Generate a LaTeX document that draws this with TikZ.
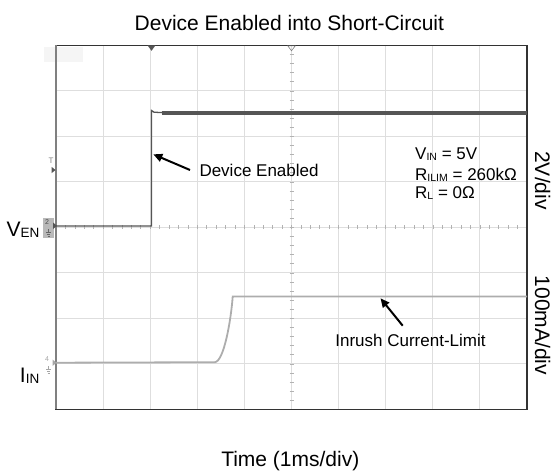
\documentclass[tikz,border=0pt]{standalone}
\usepackage{fontspec}
\setmainfont{Liberation Sans}
\usetikzlibrary{arrows.meta}
\definecolor{gridgray}{HTML}{DEDEDE}
\definecolor{entrace}{HTML}{555555}
\definecolor{intrace}{HTML}{ADADAD}
\newcommand{\lo}[2][10.5]{\raisebox{-1.2pt}{\fontsize{#1}{#1}\selectfont #2}}
\begin{document}
\begin{tikzpicture}[x=1pt,y=-1pt,
    gridline/.style={gridgray,line width=1pt},
    tickline/.style={gray!60,line width=0.6pt},
    callout/.style={line width=2pt,-{Triangle[length=9pt,width=8pt]}},
    lbl/.style={inner sep=0pt,font=\fontsize{17}{20}\selectfont},
    biglbl/.style={inner sep=0pt,font=\fontsize{21}{24}\selectfont}]
    \useasboundingbox (0,0) rectangle (556,472);
    % grid
    \fill[black!4] (44.3,46.7) rectangle (83.3,61.7);
    \foreach \i in {1,...,9}
        \draw[gridline] ({56+47.1*\i},45.3) -- ({56+47.1*\i},409.3);
    \foreach \j in {1,...,7}
        \draw[gridline] (56,{45.3+45.5*\j}) -- (527,{45.3+45.5*\j});
    \foreach \k in {1,...,39}
        \draw[tickline] (289.5,{45.3+9.1*\k}) -- (293.5,{45.3+9.1*\k});
    \foreach \k in {1,...,49}
        \draw[tickline] ({56+9.42*\k},225.3) -- ({56+9.42*\k},229.3);
    \draw[line width=1.2pt,black!80] (56,45.3) rectangle (527,409.3);
    \draw[line width=1.4pt,black!50] (56,45.3) -- (56,409.3);
    % markers
    \fill[entrace] (147.5,45.3) -- (155.5,45.3) -- (151.5,50.8) -- cycle;
    \draw[gray,line width=0.6pt] (287.8,45.9) -- (295.2,45.9) -- (291.5,50.8) -- cycle;
    \node[inner sep=0pt,text=gray,font=\fontsize{8}{8}\selectfont] (trig) at (51,161) {T};
    \fill[entrace] (51.5,166.8) -- (55.5,170) -- (51.5,173.2) -- cycle;
    \fill[gray!55] (43.3,217.7) rectangle (54,238.3);
    \node[inner sep=0pt,text=black!70,font=\fontsize{7}{7}\selectfont] (ch2) at (47,222) {2};
    \draw[black!60,line width=0.5pt] (48.6,229) -- (48.6,232) (46,232) -- (51.2,232) (46.8,234) -- (50.4,234) (47.6,236) -- (49.6,236);
    \fill[entrace] (53,222.5) -- (57,225.8) -- (53,229) -- cycle;
    \node[inner sep=0pt,text=gray!70,font=\fontsize{7}{7}\selectfont] (ch4) at (47,359.5) {4};
    \draw[gray!70,line width=0.5pt] (48.6,366) -- (48.6,369) (46,369) -- (51.2,369) (46.8,371) -- (50.4,371) (47.6,373) -- (49.6,373);
    \fill[gray!70] (52.5,359.5) -- (56.5,362.7) -- (52.5,365.9) -- cycle;
    % traces
    \draw[entrace,line width=1.3pt] (56,226) -- (151.5,226) -- (151.5,110.5) -- (154,112.2) -- (162,112.6);
    \draw[entrace,line width=3.5pt] (161.7,113) -- (527,113);
    \draw[intrace,line width=1.8pt] (56,362.7) -- (215,362.2)
        .. controls (224,361) and (231,320) .. (232.7,296.5) -- (527,296.5);
    % labels
    \node[biglbl,anchor=base] (title) at (289.4,30.7) {Device Enabled into Short-Circuit};
    \node[biglbl,anchor=base] (timelbl) at (290.3,466.7) {Time (1ms/div)};
    \node[biglbl,rotate=-90] (voltdiv) at (542.7,180.5) {2V/div};
    \node[biglbl,rotate=-90] (curdiv) at (542.7,325.5) {100mA/div};
    \node[biglbl,anchor=base east] (venlbl) at (39.5,236) {V\lo[13.5]{EN}};
    \node[biglbl,anchor=base east] (iinlbl) at (39.5,382.7) {I\lo[13.5]{IN}};
    \node[lbl,anchor=base west] (vinpar) at (415,159.3) {V\lo{IN} = 5V};
    \node[lbl,anchor=base west] (rilimpar) at (415,180.5) {R\lo{ILIM} = 260kΩ};
    \node[lbl,anchor=base west] (rlpar) at (415,198.5) {R\lo{L} = 0Ω};
    \node[lbl,anchor=base west] (devlbl) at (199.3,176.7) {Device Enabled};
    \node[lbl,anchor=base west] (inrlbl) at (335.2,346.3) {Inrush Current-Limit};
    % callouts
    \coordinate (devtail) at (190,170);
    \coordinate (devtip) at (153.3,154.3);
    \coordinate (inrtail) at (402.7,325.7);
    \coordinate (inrtip) at (380.5,298.3);
    \draw[callout] (devtail) -- (devtip);
    \draw[callout] (inrtail) -- (inrtip);
\end{tikzpicture}
\end{document}
